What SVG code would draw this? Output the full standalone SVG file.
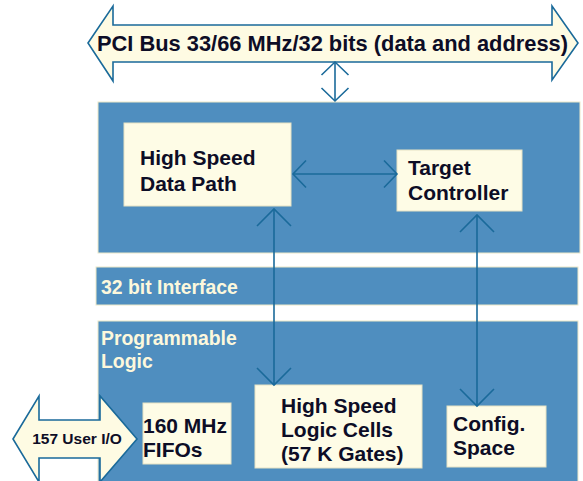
<svg xmlns="http://www.w3.org/2000/svg" width="583" height="481" viewBox="0 0 583 481">
<style>
.panel{fill:#4f8ebf;stroke:#ece8c8;stroke-width:1}
.box{fill:#fefce6;stroke:#e6e2c4;stroke-width:1}
.big{fill:#fefbe3;stroke:#1a6a9a;stroke-width:1.6;stroke-linejoin:miter}
.t{font-family:"Liberation Sans",Arial,sans-serif;font-weight:bold;fill:#0d0d26;font-size:21px}
.w{font-family:"Liberation Sans",Arial,sans-serif;font-weight:bold;fill:#fdf8dc;font-size:19.4px}
.c{fill:none;stroke:#1a6a9a;stroke-width:1.6}
</style>
<defs>
<marker id="vs" markerUnits="userSpaceOnUse" orient="auto-start-reverse" refX="0" refY="0" markerWidth="40" markerHeight="40" overflow="visible"><path d="M-13,-13.5 L0,0 L-13,13.5" fill="none" stroke="#1a6a9a" stroke-width="1.6"/></marker>
<marker id="vl" markerUnits="userSpaceOnUse" orient="auto-start-reverse" refX="0" refY="0" markerWidth="40" markerHeight="40" overflow="visible"><path d="M-17,-17 L0,0 L-17,17" fill="none" stroke="#1a6a9a" stroke-width="1.6"/></marker>
</defs>

<g id="pci-bus">
<polygon class="big" points="88,43 113,6 113,25 552,25 552,6 578,43 552,80 552,62 113,62 113,81"/>
<text class="t" x="97" y="51" style="font-size:21.8px" textLength="471" lengthAdjust="spacingAndGlyphs">PCI Bus 33/66 MHz/32 bits (data and address)</text>
</g>

<g id="pci-core">
<rect class="panel" x="98" y="102" width="482" height="151"/>
</g>

<g id="interface">
<rect class="panel" x="96" y="267" width="482" height="38"/>
<text class="w" x="101" y="294">32 bit Interface</text>
</g>

<g id="programmable-logic">
<rect class="panel" x="98" y="321" width="480" height="162"/>
<text class="w" x="101" y="345">Programmable</text>
<text class="w" x="101" y="368">Logic</text>
</g>

<g id="data-path">
<rect class="box" x="124" y="123" width="167" height="83"/>
<text class="t" x="140" y="165">High Speed</text>
<text class="t" x="140" y="191">Data Path</text>
</g>

<g id="target-controller">
<rect class="box" x="397" y="150" width="125" height="61"/>
<text class="t" x="408" y="175">Target</text>
<text class="t" x="408" y="200">Controller</text>
</g>

<g id="fifos">
<rect class="box" x="143" y="403" width="88" height="61"/>
<text class="t" x="143" y="433">160 MHz</text>
<text class="t" x="143" y="457">FIFOs</text>
</g>

<g id="logic-cells">
<rect class="box" x="255" y="385" width="167" height="83"/>
<text class="t" x="281" y="413">High Speed</text>
<text class="t" x="281" y="437">Logic Cells</text>
<text class="t" x="281" y="461">(57 K Gates)</text>
</g>

<g id="config-space">
<rect class="box" x="447" y="406" width="99" height="61"/>
<text class="t" x="453" y="431">Config.</text>
<text class="t" x="453" y="455">Space</text>
</g>

<g id="user-io">
<polygon class="big" points="13,439 39,396 39,420 100,420 100,396 137,439 100,482 100,458 39,458 39,482"/>
<text class="t" x="77" y="444" style="font-size:15.5px" text-anchor="middle">157 User I/O</text>
</g>

<g id="connectors">
<line class="c" x1="335" y1="62" x2="335" y2="101" marker-start="url(#vs)" marker-end="url(#vs)"/>
<line class="c" x1="293" y1="174" x2="397" y2="174" marker-start="url(#vs)" marker-end="url(#vs)"/>
<line class="c" x1="274" y1="209" x2="274" y2="385" marker-start="url(#vl)" marker-end="url(#vl)"/>
<line class="c" x1="477" y1="215" x2="477" y2="406" marker-start="url(#vl)" marker-end="url(#vl)"/>
</g>
</svg>
